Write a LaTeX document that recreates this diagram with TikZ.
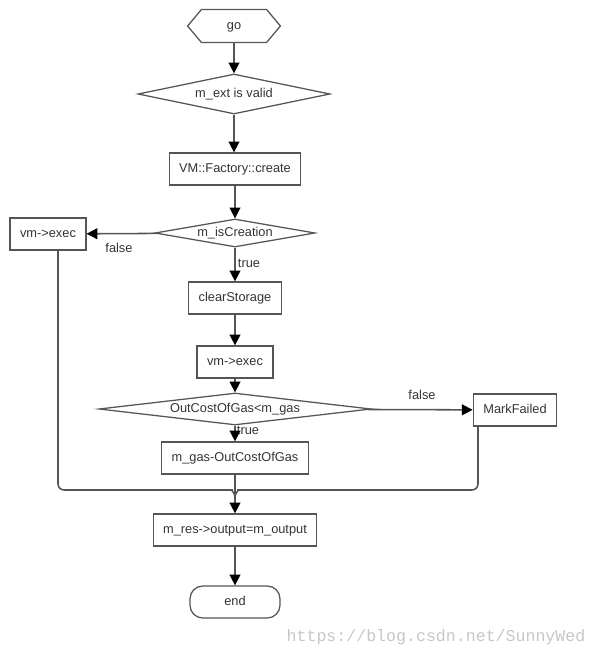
\documentclass[tikz,border=0pt]{standalone}
\usepackage{fontspec}
\setmainfont{Liberation Sans}
\newfontfamily\markfont{Liberation Mono}
\usetikzlibrary{shapes.geometric, shapes.symbols, arrows.meta, calc}

\definecolor{linegray}{HTML}{555555}
\definecolor{textgray}{HTML}{333333}

\tikzset{
	box/.style={draw=linegray, line width=0.9pt, rectangle, minimum height=0.8cm, inner xsep=0.25cm, text=textgray, text height=0.75em, text depth=0.2em},
	cond/.style={draw=linegray, line width=0.9pt, diamond, inner sep=0pt, text=textgray, text height=0.75em, text depth=0.2em},
	term/.style={draw=linegray, line width=0.9pt, signal, signal to=west and east, signal pointer angle=100, minimum width=2.32cm, minimum height=0.82cm, text=textgray, text height=0.75em, text depth=0.2em},
	flow/.style={-{Triangle[length=0.27cm, width=0.27cm, color=black]}, linegray, line width=1.1pt},
	lbl/.style={text=textgray}
}

\begin{document}
\begin{tikzpicture}[x=0.025cm, y=-0.025cm, font=\fontsize{9.1}{11}\selectfont]
			\useasboundingbox	(0, 0) rectangle (597, 658);

			\node[term]		(go)	at (234, 26)	{go};
			\node[cond, shape aspect=4.8, minimum width=4.8cm, minimum height=1cm]		(ext)	at (234, 94)	{m\_ext is valid};
			\node[box]		(vmf)	at (235, 169)	{VM::Factory::create};
			\node[cond, shape aspect=5.7, minimum width=4cm, minimum height=0.7cm]		(isc)	at (235, 233)	{m\_isCreation};
			\node[box]		(exec1)	at (48, 234)	{vm->exec};
			\node[box]		(clear)	at (235, 298)	{clearStorage};
			\node[box]		(exec2)	at (235, 362)	{vm->exec};
			\node[cond, shape aspect=8.5, minimum width=6.8cm, minimum height=0.8cm]		(cost)	at (235, 409)	{OutCostOfGas<m\_gas};
			\node[box]		(mark)	at (515, 410)	{MarkFailed};
			\node[box]		(mgas)	at (235, 458)	{m\_gas-OutCostOfGas};
			\node[box]		(mres)	at (235, 530)	{m\_res->output=m\_output};
			\node[box, rounded corners=0.32cm, minimum width=2.25cm]	(end)	at (235, 602)	{end};

			\node[lbl]		(f1)	at (119, 248)	{false};
			\node[lbl]		(t1)	at (249, 263)	{true};
			\node[lbl]		(f2)	at (422, 395)	{false};
			\node[lbl]		(t2)	at (248, 430)	{true};

			\draw[flow]		(go) -- (ext);
			\draw[flow]		(ext.south) -- (ext.south |- vmf.north);
			\draw[flow]		(vmf) -- (isc);
			\draw[flow]		(isc) -- (exec1);
			\draw[flow]		(isc) -- (clear);
			\draw[flow]		(clear) -- (exec2);
			\draw[flow]		(exec2) -- (cost);
			\draw[flow]		(cost) -- (mark);
			\draw[flow]		(cost) -- (mgas);
			\draw[flow]		(mgas) -- (mres);
			\draw[flow]		(mres) -- (end);

			% side branches join above m_res
			\coordinate		(join)	at (235, 497);
			\draw[linegray, line width=1.1pt, rounded corners=0.15cm]
								($(exec1.south)+(10, 0)$) |- ($(join)+(-9, -7)$) to[out=0, in=90] (join)
								($(mark.south)+(-37, 0)$) |- ($(join)+(9, -7)$) to[out=180, in=90] (join);

			\node[text=black!22, font=\markfont\fontsize{11.8}{13}\selectfont]	(wm)	at (436, 637)	{https://blog.csdn.net/SunnyWed};
		\end{tikzpicture}
\end{document}
